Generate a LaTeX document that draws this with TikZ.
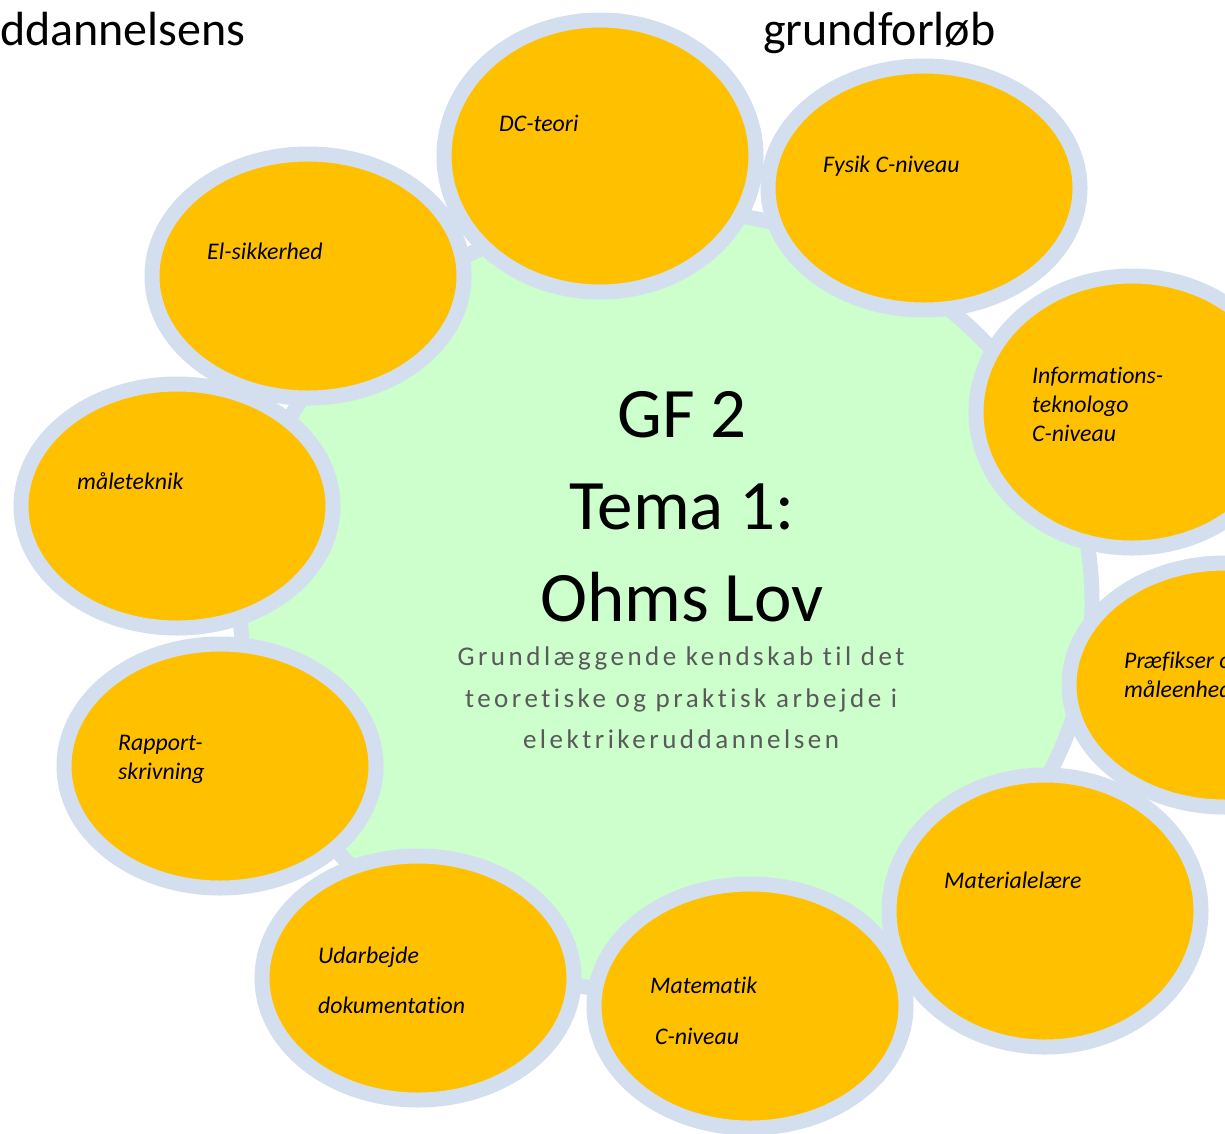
\documentclass[tikz,border=0pt]{standalone}
\usepackage{fontspec}
\setmainfont{Carlito}[Ligatures=NoCommon]
\newfontfamily\subfont[LetterSpace=13,Ligatures=NoCommon]{Carlito}
\usetikzlibrary{shapes.geometric}
\definecolor{ringblue}{HTML}{D3DEEE}
\definecolor{bubfill}{HTML}{FFC000}
\definecolor{coregreen}{HTML}{CCFFCC}
\definecolor{subgray}{HTML}{595959}
\tikzset{
 bub/.style={ellipse, draw=ringblue, fill=bubfill, line width=15pt, inner sep=0pt, minimum width=312pt, minimum height=244pt},
 bigbub/.style={bub, minimum height=272pt},
 corestyle/.style={ellipse, draw=ringblue, fill=coregreen, line width=15pt, inner sep=0pt, minimum width=852pt, minimum height=784pt},
 lbl/.style={anchor=base west, inner sep=0pt, font=\fontsize{23.8}{28}\selectfont\itshape},
 hdr/.style={anchor=base west, inner sep=0pt, font=\fontsize{48}{58}\selectfont},
 title/.style={anchor=base, inner sep=0pt, font=\fontsize{71}{85}\selectfont},
 subt/.style={anchor=base, inner sep=0pt, text=subgray, font=\fontsize{27}{32}\subfont},
}
\begin{document}
\begin{tikzpicture}[x=1pt,y=-1pt]
\useasboundingbox (0,0) rectangle (1225,1133);
\clip (0,0) rectangle (1225,1133);
\node[hdr] (h1) at (0,45) {ddannelsens};
\node[hdr] (h2) at (763,45) {grundforløb};
\node[corestyle] (core) at (666,602) {};
\node[bigbub] (dc) at (600,156) {};
\node[bub] (fys) at (924,188) {};
\node[bigbub] (inf) at (1132,412) {};
\node[bub] (pra) at (1225,685) {};
\node[bigbub] (mat) at (1045,911) {};
\node[bub] (mtk) at (750,1006) {};
\node[bub] (uda) at (418,978) {};
\node[bub] (rap) at (220,766) {};
\node[bub] (mal) at (177,506) {};
\node[bub] (els) at (308,276) {};
% centre text
\node[title] (t1) at (682,437) {GF 2};
\node[title] (t2) at (682,529) {Tema 1:};
\node[title] (t3) at (682,621) {Ohms Lov};
\node[subt] (s1) at (681,665) {Grundlæggende kendskab til det};
\node[subt] (s2) at (681,707) {teoretiske og praktisk arbejde i};
\node[subt] (s3) at (681,748) {elektrikeruddannelsen};
% bubble labels
\node[lbl] (ldc) at (499,131) {DC-teori};
\node[lbl] (lfys) at (823,172) {Fysik C-niveau};
\node[lbl] (linf1) at (1032,383) {Informations-};
\node[lbl] (linf2) at (1032,412) {teknologo};
\node[lbl] (linf3) at (1032,441) {C-niveau};
\node[lbl] (lpra1) at (1124,668) {Præfikser og};
\node[lbl] (lpra2) at (1124,697) {måleenheder};
\node[lbl] (lmat) at (944,888) {Materialelære};
\node[lbl] (lmtk1) at (650,993) {Matematik};
\node[lbl] (lmtk2) at (655,1044) {C-niveau};
\node[lbl] (luda1) at (318,963) {Udarbejde};
\node[lbl] (luda2) at (318,1013) {dokumentation};
\node[lbl] (lrap1) at (118,750) {Rapport-};
\node[lbl] (lrap2) at (118,779) {skrivning};
\node[lbl] (lmal) at (77,489) {måleteknik};
\node[lbl] (lels) at (207,259) {El-sikkerhed};
\end{tikzpicture}
\end{document}
